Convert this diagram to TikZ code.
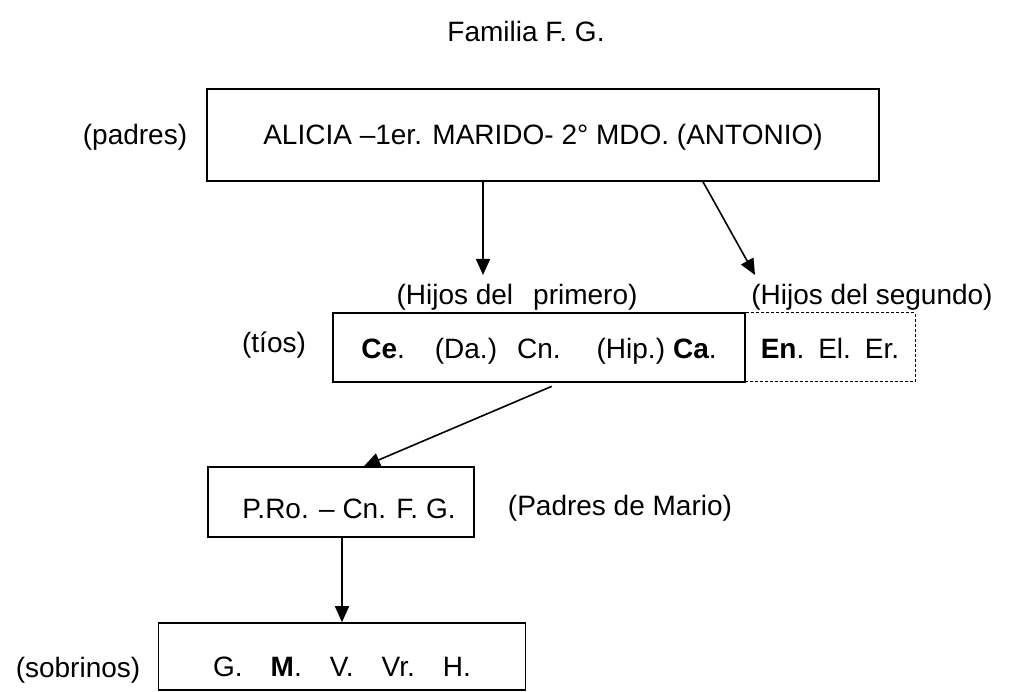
\documentclass[tikz,border=0pt]{standalone}
\usepackage{fontspec}
\setmainfont{Liberation Sans}
\usepackage{tikz}
\usetikzlibrary{arrows.meta}

\tikzset{
  texto/.style={inner sep=0pt, font=\fontsize{28}{34}\selectfont},
  caja/.style={texto, draw, line width=1.6pt, text height=#1, text depth=0pt},
  caja/.default=20pt,
  cajapunto/.style={texto, draw, line width=1pt, dash pattern=on 3pt off 2pt,
    text height=22pt, text depth=0pt},
  flecha/.style={line width=1.6pt, -{Triangle[length=16pt,width=14pt]}}
}

\begin{document}
\begin{tikzpicture}[x=1pt, y=-1pt]

\useasboundingbox (0,0) rectangle (1012,692);

\node[texto] (titulo) at (526,31) {Familia F. G.};

% padres
\node[caja, minimum width=672, minimum height=92] (padres) at (543,135)
  {ALICIA –1er. MARIDO- 2° MDO. (ANTONIO)};
\node[texto] (lpadres) at (135,137) {(padres)};

% tios
\node[texto] (hprim) at (517,297) {(Hijos del\hspace{20pt}primero)};
\node[texto] (hseg) at (872,297) {(Hijos del segundo)};
\node[caja=22pt, minimum width=412, minimum height=69] (tios) at (539,347.5)
  {\textbf{Ce}.\hspace{30pt}(Da.)\hspace{20pt}Cn.\hspace{36pt}(Hip.)\hspace{8pt}\textbf{Ca}.\hspace{16pt}};
\node[cajapunto, minimum width=170, minimum height=69] (tiosb) at (830,347.5)
  {\textbf{En}.\hspace{14pt}El.\hspace{14pt}Er.};
\node[texto] (ltios) at (274,345) {(tíos)};

% padres de Mario
\node[caja=32pt, minimum width=266, minimum height=70] (pro) at (341,502)
  {\hspace{16pt}P.Ro. – Cn. F. G.};
\node[texto] (lpro) at (620,508) {(Padres de Mario)};

% sobrinos
\node[caja=40pt, minimum width=367, minimum height=67] (sobr) at (342,656.5)
  {G.\hspace{28pt}\textbf{M}.\hspace{28pt}V.\hspace{28pt}Vr.\hspace{28pt}H.\hspace{10pt}};
\node[texto] (lsobr) at (78,670) {(sobrinos)};

\coordinate (f1) at (483,275);
\coordinate (x2) at (703,0);
\coordinate (f2) at (755,275);
\coordinate (x3) at (560,0);
\coordinate (x4) at (364,0);

\draw[flecha] (padres.south -| f1) -- (f1);
\draw[flecha] (padres.south -| x2) -- (f2);
\draw[flecha, shorten <=9pt] (tios.south -| x3) -- (pro.north -| x4);
\draw[flecha] (pro.south -| sobr.north) -- (sobr.north);

\end{tikzpicture}
\end{document}
